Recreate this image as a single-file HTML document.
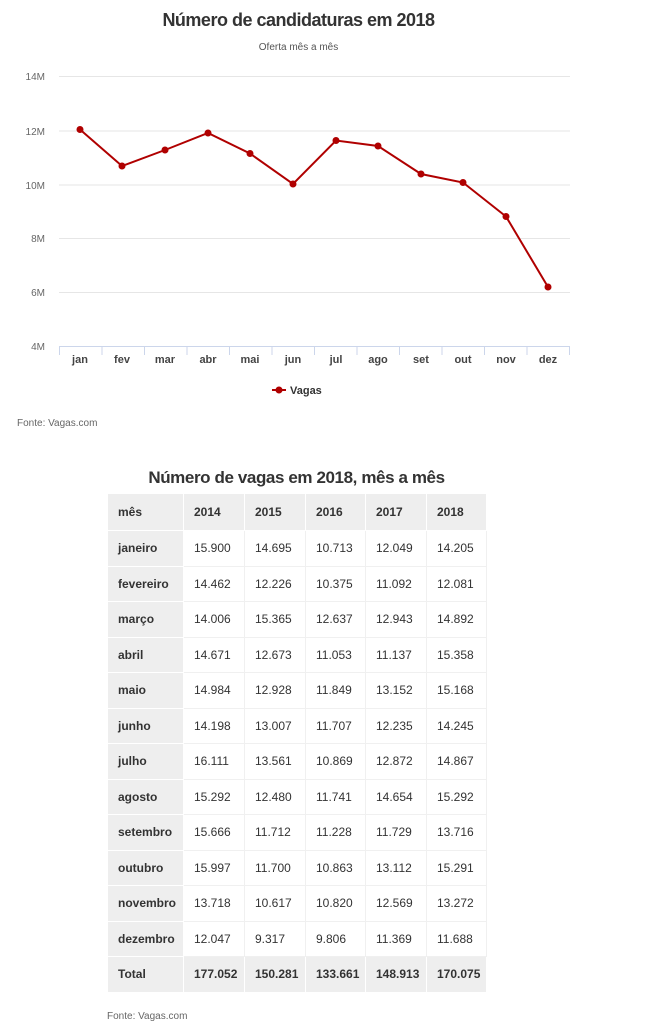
<!DOCTYPE html><html><head><meta charset="utf-8"><style>
body{margin:0;width:657px;height:1024px;background:#fff;font-family:"Liberation Sans",sans-serif;position:relative;overflow:hidden}
.t{position:absolute;white-space:nowrap}
table{position:absolute;left:107px;top:493px;border-collapse:collapse;font-size:12px;color:#333}
td{height:35.5px;padding:0 0 0 10px;border:1px solid #f0f0f0;box-sizing:border-box}
tr:first-child td{height:37px;background:#eee;font-weight:bold;border-color:#fff}
td:first-child{background:#eee;font-weight:bold;width:76px;border-color:#fff}
tr:last-child td{background:#eee;font-weight:bold;border-color:#fff}
</style></head><body>
<div class="t" style="left:0;width:597px;text-align:center;top:10px;font-size:18px;font-weight:bold;color:#333;letter-spacing:-0.5px">Número de candidaturas em 2018</div>
<div class="t" style="left:0;width:597px;text-align:center;top:42px;font-size:10px;color:#555">Oferta mês a mês</div>
<svg style="position:absolute;left:0;top:0" width="657" height="430">
<g stroke="#e6e6e6" stroke-width="1">
<line x1="59" x2="570" y1="76.5" y2="76.5"/><line x1="59" x2="570" y1="131" y2="131"/><line x1="59" x2="570" y1="185" y2="185"/><line x1="59" x2="570" y1="238.5" y2="238.5"/><line x1="59" x2="570" y1="292.5" y2="292.5"/></g>
<g stroke="#ccd6eb"><line x1="59" x2="570" y1="346.5" y2="346.5"/>
<path d="M59.5 346v9M102 346v9M144.5 346v9M187 346v9M229.5 346v9M272 346v9M314.5 346v9M357 346v9M399.5 346v9M442 346v9M484.5 346v9M527 346v9M569.5 346v9"/></g>
<g font-size="10" fill="#666" text-anchor="end"><text x="45" y="80">14M</text><text x="45" y="135">12M</text><text x="45" y="189">10M</text><text x="45" y="242">8M</text><text x="45" y="296">6M</text><text x="45" y="350">4M</text></g>
<g font-size="11" font-weight="bold" fill="#444" text-anchor="middle"><text x="80" y="363">jan</text><text x="122" y="363">fev</text><text x="165" y="363">mar</text><text x="208" y="363">abr</text><text x="250" y="363">mai</text><text x="293" y="363">jun</text><text x="336" y="363">jul</text><text x="378" y="363">ago</text><text x="421" y="363">set</text><text x="463" y="363">out</text><text x="506" y="363">nov</text><text x="548" y="363">dez</text></g>
<polyline fill="none" stroke="#b00000" stroke-width="2" points="80,129.5 122,166 165,150 208,133 250,153.5 293,184 336,140.5 378,146 421,174 463,182.5 506,216.5 548,287"/>
<g fill="#b00000"><circle cx="80" cy="129.5" r="3.5"/><circle cx="122" cy="166" r="3.5"/><circle cx="165" cy="150" r="3.5"/><circle cx="208" cy="133" r="3.5"/><circle cx="250" cy="153.5" r="3.5"/><circle cx="293" cy="184" r="3.5"/><circle cx="336" cy="140.5" r="3.5"/><circle cx="378" cy="146" r="3.5"/><circle cx="421" cy="174" r="3.5"/><circle cx="463" cy="182.5" r="3.5"/><circle cx="506" cy="216.5" r="3.5"/><circle cx="548" cy="287" r="3.5"/>
<rect x="272" y="389" width="14" height="2"/><circle cx="279" cy="390" r="3.5"/></g>
<text x="290" y="394" font-size="11" font-weight="bold" fill="#333">Vagas</text>
<text x="17" y="426" font-size="10" fill="#666">Fonte: Vagas.com</text>
</svg>
<div class="t" style="left:107px;width:379px;text-align:center;top:468px;font-size:17px;font-weight:bold;color:#333;letter-spacing:-0.4px">Número de vagas em 2018, mês a mês</div>
<table>
<colgroup><col style="width:76px"><col style="width:61px"><col style="width:61px"><col style="width:60px"><col style="width:61px"><col style="width:60px"></colgroup>
<tr><td>mês</td><td>2014</td><td>2015</td><td>2016</td><td>2017</td><td>2018</td></tr>
<tr><td>janeiro</td><td>15.900</td><td>14.695</td><td>10.713</td><td>12.049</td><td>14.205</td></tr>
<tr><td>fevereiro</td><td>14.462</td><td>12.226</td><td>10.375</td><td>11.092</td><td>12.081</td></tr>
<tr><td>março</td><td>14.006</td><td>15.365</td><td>12.637</td><td>12.943</td><td>14.892</td></tr>
<tr><td>abril</td><td>14.671</td><td>12.673</td><td>11.053</td><td>11.137</td><td>15.358</td></tr>
<tr><td>maio</td><td>14.984</td><td>12.928</td><td>11.849</td><td>13.152</td><td>15.168</td></tr>
<tr><td>junho</td><td>14.198</td><td>13.007</td><td>11.707</td><td>12.235</td><td>14.245</td></tr>
<tr><td>julho</td><td>16.111</td><td>13.561</td><td>10.869</td><td>12.872</td><td>14.867</td></tr>
<tr><td>agosto</td><td>15.292</td><td>12.480</td><td>11.741</td><td>14.654</td><td>15.292</td></tr>
<tr><td>setembro</td><td>15.666</td><td>11.712</td><td>11.228</td><td>11.729</td><td>13.716</td></tr>
<tr><td>outubro</td><td>15.997</td><td>11.700</td><td>10.863</td><td>13.112</td><td>15.291</td></tr>
<tr><td>novembro</td><td>13.718</td><td>10.617</td><td>10.820</td><td>12.569</td><td>13.272</td></tr>
<tr><td>dezembro</td><td>12.047</td><td>9.317</td><td>9.806</td><td>11.369</td><td>11.688</td></tr>
<tr><td>Total</td><td>177.052</td><td>150.281</td><td>133.661</td><td>148.913</td><td>170.075</td></tr>
</table>
<div class="t" style="left:107px;top:1011px;font-size:10px;color:#666">Fonte: Vagas.com</div>
</body></html>
